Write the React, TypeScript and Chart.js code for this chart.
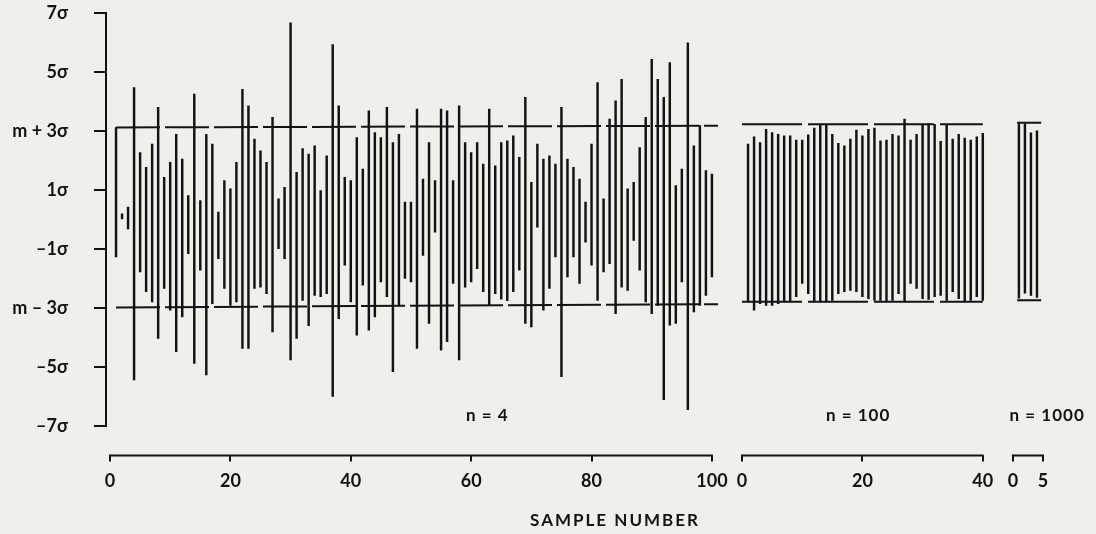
import React, { useEffect, useRef } from "react";
import { Chart, registerables } from "chart.js";

Chart.register(...registerables);

// ---------- data ----------
// n = 4 panel: 100 samples, each drawn as a vertical line from its low to its high value (in sigma units)
const n4Samples = Array.from({ length: 100 }, (_, i) => i + 1);
const n4High = [
  3.12, 0.19, 0.42, 4.47, 2.27, 1.77, 2.56, 3.8, 1.43, 1.94,
  2.89, 2.05, 0.81, 4.25, 0.64, 2.89, 2.56, 0.25, 1.32, 1.04,
  1.94, 4.41, 3.85, 2.73, 2.33, 1.94, 3.46, 0.7, 1.09, 6.67,
  1.6, 2.4, 2.22, 2.5, 0.98, 2.16, 5.93, 3.85, 1.43, 1.32,
  2.78, 1.71, 3.68, 2.95, 2.78, 3.8, 2.61, 2.89, 0.59, 0.59,
  3.74, 1.37, 2.61, 1.32, 3.74, 3.68, 1.32, 3.85, 2.61, 2.27,
  2.61, 1.88, 3.74, 1.82, 2.61, 2.67, 2.84, 2.11, 4.14, 1.26,
  2.56, 2.05, 2.16, 1.88, 3.8, 2.05, 1.77, 1.37, 0.59, 2.56,
  4.64, 0.7, 3.4, 4.02, 4.75, 1.04, 1.26, 2.44, 3.46, 5.43,
  4.75, 4.14, 5.32, 1.15, 1.71, 5.99, 2.5, 3.18, 1.66, 1.54,
];
const n4Low = [
  -1.27, 0.02, -0.32, -5.44, -1.78, -2.45, -2.79, -4.03, -2.34, -3.07,
  -4.48, -3.3, -1.16, -4.88, -1.72, -5.27, -2.85, -1.33, -2.34, -2.91,
  -2.79, -4.37, -4.37, -2.34, -2.29, -2.51, -3.81, -0.99, -1.33, -4.76,
  -4.03, -2.74, -3.6, -2.57, -2.62, -2.51, -6.0, -3.36, -1.55, -2.79,
  -3.92, -2.23, -3.75, -3.3, -2.12, -2.62, -5.16, -2.91, -2.0, -2.12,
  -4.37, -1.22, -3.52, -0.43, -4.43, -4.14, -2.17, -4.76, -2.29, -2.12,
  -1.67, -2.45, -2.91, -2.51, -2.7, -2.75, -2.45, -1.72, -3.52, -3.64,
  -0.26, -3.07, -2.34, -1.27, -5.33, -1.95, -1.27, -2.17, -0.77, -1.55,
  -2.74, -1.78, -1.5, -3.19, -2.29, -2.4, -0.71, -1.72, -2.79, -3.19,
  -2.91, -6.11, -3.58, -3.52, -2.12, -6.45, -3.13, -2.91, -2.57, -1.95,
];

// n = 100 panel: 40 samples
const n100Samples = Array.from({ length: 40 }, (_, i) => i + 1);
const n100High = [
  2.56, 2.8, 2.61, 3.06, 2.95, 2.89, 2.84, 2.84, 2.69, 2.69,
  2.87, 3.1, 3.23, 3.2, 2.89, 2.58, 2.5, 2.73, 3.03, 2.84,
  3.06, 3.1, 2.67, 2.69, 2.89, 2.84, 3.4, 2.69, 2.89, 3.23,
  3.25, 3.23, 2.65, 3.23, 2.73, 2.89, 2.76, 2.69, 2.8, 2.92,
];
const n100Low = [
  -2.79, -3.07, -2.85, -2.91, -2.91, -2.85, -2.79, -2.79, -2.62, -2.17,
  -2.51, -2.79, -2.79, -2.79, -2.74, -2.51, -2.45, -2.4, -2.45, -2.62,
  -2.68, -2.74, -2.74, -2.79, -2.74, -2.51, -2.79, -2.17, -2.34, -2.68,
  -2.71, -2.62, -2.57, -2.74, -2.45, -2.68, -2.79, -2.74, -2.62, -2.74,
];

// n = 1000 panel: 4 samples
const n1000Samples = [1, 2, 3, 4];
const n1000High = [3.24, 3.24, 2.94, 3.01];
const n1000Low = [-2.67, -2.5, -2.57, -2.64];

// control limits (m + 3σ / m − 3σ) as drawn in each panel: [start, end]
const n4LimitX = [1, 101];
const n4Upper = [3.12, 3.18];
const n4Lower = [-2.98, -2.87];
const n100LimitX = [0, 40];
const n100Upper = [3.23, 3.23];
const n100Lower = [-2.79, -2.79];
const n1000LimitX = [0.7, 4.7];
const n1000Upper = [3.28, 3.28];
const n1000Lower = [-2.74, -2.74];

// axis ticks
const yTickValues = [7, 5, 3, 1, -1, -3, -5, -7];
const yTickLabels = ["7σ", "5σ", "m + 3σ", "1σ", "–1σ", "m – 3σ", "–5σ", "–7σ"];
const n4Ticks = [0, 20, 40, 60, 80, 100];
const n100Ticks = [0, 20, 40];
const n1000Ticks = [0, 5];
const panelLabels = ["n = 4", "n = 100", "n = 1000"];

// ---------- layout constants ----------
const PANEL2_OFFSET = 105;
const PANEL3_OFFSET = 150;
const INK = "#131313";
const BG = "#efefec";
const FONT = "Lato, 'DejaVu Sans', sans-serif";

const xTickValues = [
  ...n4Ticks,
  ...n100Ticks.map((t) => t + PANEL2_OFFSET),
  ...n1000Ticks.map((t) => t + PANEL3_OFFSET),
];

function tickLabelFor(v: number): string {
  if (v <= 100) return String(v);
  if (v < PANEL3_OFFSET) return String(Math.round(v - PANEL2_OFFSET));
  return String(Math.round(v - PANEL3_OFFSET));
}

function rangeData(samples: number[], lows: number[], highs: number[], offset: number) {
  return samples.map((s, i) => ({ x: s + offset, y: [lows[i], highs[i]] }));
}

function limitData(xs: number[], ys: number[], offset: number) {
  return xs.map((x, i) => ({ x: x + offset, y: ys[i] }));
}

const decorPlugin = {
  id: "decor",
  beforeDraw(chart: any) {
    const { ctx, width, height } = chart;
    ctx.save();
    ctx.fillStyle = BG;
    ctx.fillRect(0, 0, width, height);
    ctx.restore();
  },
  afterDraw(chart: any) {
    const { ctx, chartArea } = chart;
    const x = chart.scales.x;
    const y = chart.scales.y;
    ctx.save();
    ctx.strokeStyle = INK;
    ctx.lineWidth = 2;
    // y spine from 7σ to -7σ
    ctx.beginPath();
    ctx.moveTo(chartArea.left, y.getPixelForValue(7) - 1);
    ctx.lineTo(chartArea.left, y.getPixelForValue(-7) + 1);
    ctx.stroke();
    // x-axis brackets per panel
    const spans = [
      [n4Ticks[0], n4Ticks[n4Ticks.length - 1]],
      [n100Ticks[0] + PANEL2_OFFSET, n100Ticks[n100Ticks.length - 1] + PANEL2_OFFSET],
      [n1000Ticks[0] + PANEL3_OFFSET, n1000Ticks[n1000Ticks.length - 1] + PANEL3_OFFSET],
    ];
    const by = chartArea.bottom;
    spans.forEach(([a, b]) => {
      ctx.beginPath();
      ctx.moveTo(x.getPixelForValue(a) - 1, by);
      ctx.lineTo(x.getPixelForValue(b) + 1, by);
      ctx.stroke();
    });
    // panel labels
    ctx.fillStyle = INK;
    ctx.font = `bold 17px ${FONT}`;
    ctx.textAlign = "center";
    ctx.textBaseline = "middle";
    try { (ctx as any).letterSpacing = "1px"; } catch (e) {}
    const labelPos = [62.7, PANEL2_OFFSET + 19.3, PANEL3_OFFSET + 5.7];
    panelLabels.forEach((t, i) => {
      ctx.fillText(t, x.getPixelForValue(labelPos[i]), y.getPixelForValue(-6.66));
    });
    // axis title
    ctx.font = `bold 17px ${FONT}`;
    try { (ctx as any).letterSpacing = "2px"; } catch (e) {}
    ctx.fillText("SAMPLE NUMBER", x.getPixelForValue(83.9), 521);
    ctx.restore();
  },
};

export default function App() {
  const ref = useRef<HTMLCanvasElement | null>(null);

  useEffect(() => {
    if (!ref.current) return;
    const barStyle = {
      type: "bar" as const,
      backgroundColor: INK,
      borderWidth: 0,
      barThickness: 1.8,
      grouped: false,
    };
    const lineStyle = {
      type: "line" as const,
      borderColor: INK,
      borderWidth: 2,
      pointRadius: 0,
      fill: false,
    };
    const chart = new Chart(ref.current, {
      type: "bar",
      data: {
        datasets: [
          { ...barStyle, label: "n = 4", data: rangeData(n4Samples, n4Low, n4High, 0) },
          { ...barStyle, label: "n = 100", data: rangeData(n100Samples, n100Low, n100High, PANEL2_OFFSET) },
          { ...barStyle, label: "n = 1000", data: rangeData(n1000Samples, n1000Low, n1000High, PANEL3_OFFSET) },
          { ...lineStyle, label: "UCL n=4", data: limitData(n4LimitX, n4Upper, 0), borderDash: [44, 5] },
          { ...lineStyle, label: "LCL n=4", data: limitData(n4LimitX, n4Lower, 0), borderDash: [44, 5] },
          { ...lineStyle, label: "UCL n=100", data: limitData(n100LimitX, n100Upper, PANEL2_OFFSET), borderDash: [60, 6] },
          { ...lineStyle, label: "LCL n=100", data: limitData(n100LimitX, n100Lower, PANEL2_OFFSET), borderDash: [60, 6] },
          { ...lineStyle, label: "UCL n=1000", data: limitData(n1000LimitX, n1000Upper, PANEL3_OFFSET) },
          { ...lineStyle, label: "LCL n=1000", data: limitData(n1000LimitX, n1000Lower, PANEL3_OFFSET) },
        ] as any,
      },
      options: {
        responsive: true,
        maintainAspectRatio: false,
        animation: false,
        layout: { padding: { top: 13, right: 47, left: 0, bottom: 0 } },
        plugins: {
          legend: { display: false },
          tooltip: { enabled: false },
        },
        scales: {
          x: {
            type: "linear",
            min: -0.665,
            max: 156,
            offset: false,
            grid: {
              display: true,
              drawOnChartArea: false,
              drawTicks: true,
              tickLength: 6,
              color: INK,
              lineWidth: 2,
              offset: false,
            },
            border: { display: false },
            ticks: {
              autoSkip: false,
              maxRotation: 0,
              minRotation: 0,
              padding: 9,
              color: INK,
              font: { family: FONT, size: 18, weight: "bold" },
              callback: (v: any) => tickLabelFor(Number(v)),
            },
            afterBuildTicks: (s: any) => {
              s.ticks = xTickValues.map((v) => ({ value: v }));
            },
            afterFit: (s: any) => {
              s.height = 78.5;
              s.paddingLeft = 0;
              s.paddingRight = 0;
            },
          },
          y: {
            type: "linear",
            min: -8,
            max: 7,
            grid: {
              display: true,
              drawOnChartArea: false,
              drawTicks: true,
              tickLength: 12,
              color: INK,
              lineWidth: 2,
            },
            border: { display: false },
            ticks: {
              padding: 26,
              color: INK,
              font: { family: FONT, size: 18, weight: "bold" },
              callback: (v: any) => {
                const i = yTickValues.indexOf(Number(v));
                return i >= 0 ? yTickLabels[i] : "";
              },
            },
            afterBuildTicks: (s: any) => {
              s.ticks = yTickValues.map((v) => ({ value: v }));
            },
            afterFit: (s: any) => {
              s.width = 106;
              s.paddingTop = 0;
              s.paddingBottom = 0;
            },
          },
        },
      } as any,
      plugins: [decorPlugin],
    });
    return () => chart.destroy();
  }, []);

  return (
    <div
      style={{
        position: "fixed",
        left: 0,
        top: 0,
        width: 1096,
        height: 534,
        background: BG,
      }}
    >
      <canvas ref={ref} />
    </div>
  );
}
